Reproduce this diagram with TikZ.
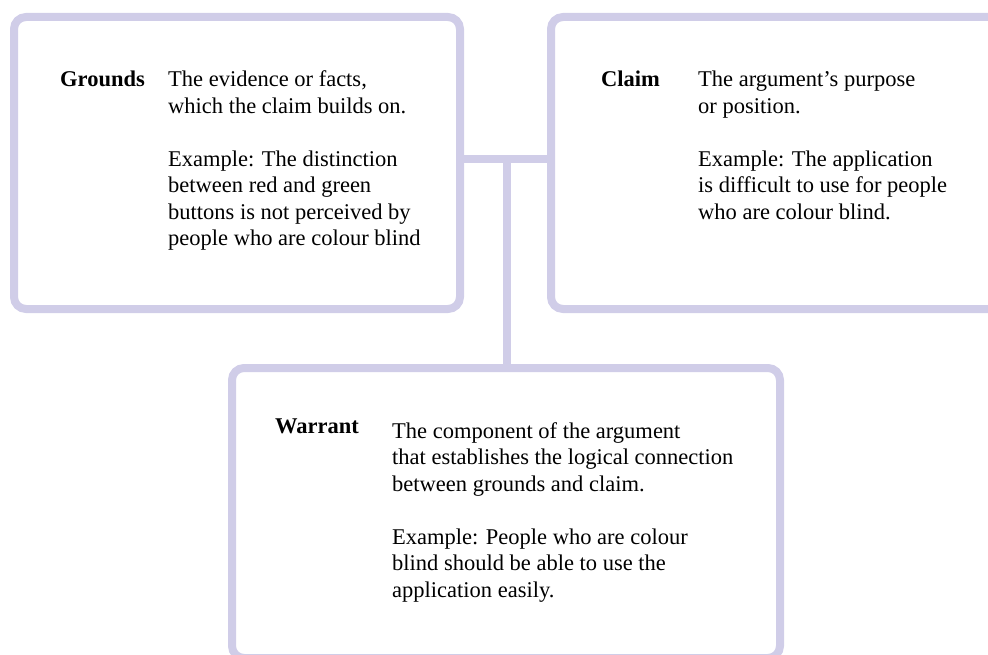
\documentclass[tikz,border=0pt]{standalone}
\usepackage{fontspec}
\setmainfont{Liberation Serif}
\begin{document}
\begin{tikzpicture}[x=1pt,y=-1pt,
  panel/.style={draw=boxline, line width=8pt, rounded corners=12pt, rectangle,
    inner sep=0pt, outer sep=0pt, fill=white},
  link/.style={draw=boxline, line width=8pt},
  head/.style={anchor=base west, inner sep=0pt, font=\bfseries},
  body/.style={anchor=base west, inner sep=0pt}]
\definecolor{boxline}{RGB}{208,205,232}
\fontsize{22.5}{26.5}\selectfont
\useasboundingbox (0,0) rectangle (988,655);
\clip (0,0) rectangle (988,655);

% junction of the three connectors
\coordinate (j) at (507,159);

% panels
\node[panel, minimum width=446pt, minimum height=292pt] (g) at (237,163) {};
\node[panel, minimum width=470pt, minimum height=292pt] (c) at (786,163) {};
\node[panel, minimum width=548pt, minimum height=290pt] (w) at (506,513) {};

% connectors
\draw[link] (g.east |- j) -- (c.west |- j);
\draw[link] (j) -- (w.north -| j);

% Grounds
\node[head] (gh) at (60,87) {Grounds};
\node[body] (gt) at (168,87) {\parbox[t]{300pt}{\raggedright
  The evidence or facts,\\
  which the claim builds on.\\[26.5pt]
  Example: The distinction\\
  between red and green\\
  buttons is not perceived by\\
  people who are colour blind}};

% Claim
\node[head] (ch) at (601,87) {Claim};
\node[body] (ct) at (698,87) {\parbox[t]{300pt}{\raggedright
  The argument’s purpose\\
  or position.\\[26.5pt]
  Example: The application\\
  is difficult to use for people\\
  who are colour blind.}};

% Warrant
\node[head] (wh) at (275,433) {Warrant};
\node[body] (wt) at (392,438) {\parbox[t]{380pt}{\raggedright
  The component of the argument\\
  that establishes the logical connection\\
  between grounds and claim.\\[26.5pt]
  Example: People who are colour\\
  blind should be able to use the\\
  application easily.}};
\end{tikzpicture}
\end{document}
